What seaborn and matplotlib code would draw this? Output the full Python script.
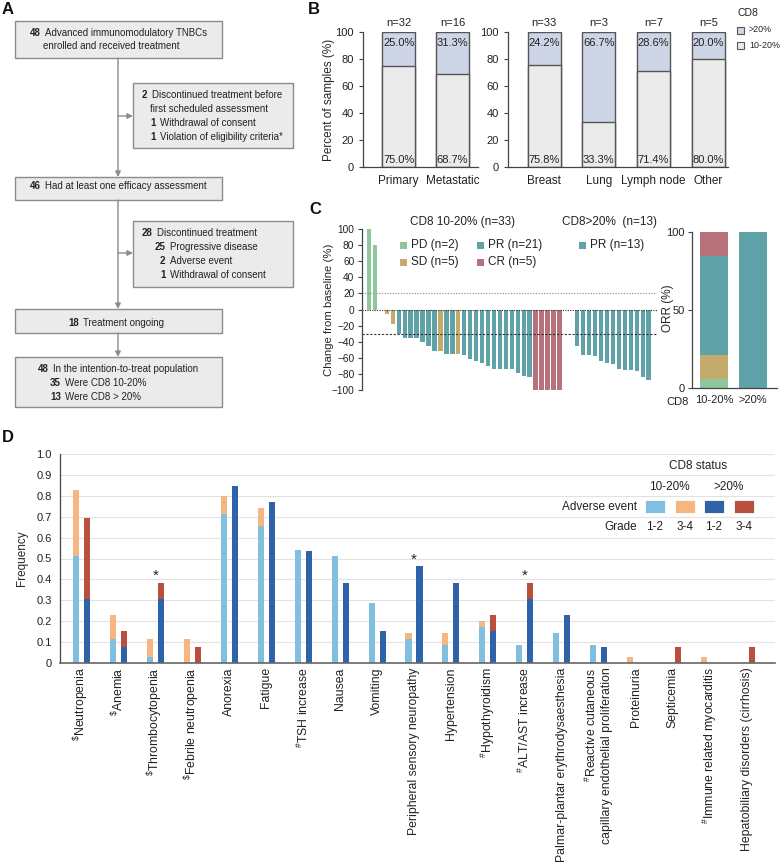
import numpy as np
import pandas as pd
import seaborn as sns
import matplotlib.pyplot as plt
from matplotlib.patches import Rectangle

sns.set_style("white")
plt.rcParams["font.family"] = ["Liberation Sans", "DejaVu Sans"]
plt.rcParams["mathtext.fontset"] = "custom"
plt.rcParams["mathtext.rm"] = "Liberation Sans"
plt.rcParams["mathtext.it"] = "Liberation Sans:italic"
plt.rcParams["mathtext.bf"] = "Liberation Sans:bold"
plt.rcParams["axes.edgecolor"] = "#444444"
plt.rcParams["axes.linewidth"] = 0.9
plt.rcParams["text.color"] = "#222222"
plt.rcParams["xtick.color"] = "#444444"
plt.rcParams["ytick.color"] = "#444444"
plt.rcParams["xtick.labelcolor"] = "#222222"
plt.rcParams["ytick.labelcolor"] = "#222222"

# ---------------- data ----------------
# panel A flow chart
flow_lines = [
    [("48", "Advanced immunomodulatory TNBCs"), ("", "enrolled and received treatment")],
    [("2", "Discontinued treatment before"), ("", "first scheduled assessment"),
     ("1", "Withdrawal of consent"), ("1", "Violation of eligibility criteria*")],
    [("46", "Had at least one efficacy assessment")],
    [("28", "Discontinued treatment"), ("25", "Progressive disease"),
     ("2", "Adverse event"), ("1", "Withdrawal of consent")],
    [("18", "Treatment ongoing")],
    [("48", "In the intention-to-treat population"), ("35", "Were CD8 10-20%"),
     ("13", "Were CD8 > 20%")],
]

# panel B
site_groups = ["Primary", "Metastatic"]
site_n = [32, 16]
site_high = [25.0, 31.3]
site_low = [75.0, 68.7]
organ_groups = ["Breast", "Lung", "Lymph node", "Other"]
organ_n = [33, 3, 7, 5]
organ_high = [24.2, 66.7, 28.6, 20.0]
organ_low = [75.8, 33.3, 71.4, 80.0]

# panel C waterfall
low_resp = ["PD"] * 2 + ["SD"] * 3 + ["PR"] * 7 + ["SD"] + ["PR"] * 2 + ["SD"] + ["PR"] * 12 + ["CR"] * 5
low_change = [100, 80, 0, -5, -18, -30, -35, -36, -36, -40, -45, -51, -52, -55, -55, -55,
              -57, -62, -64, -67, -70, -74, -74, -74, -74, -79, -83, -84,
              -100, -100, -100, -100, -100]
high_resp = ["PR"] * 13
high_change = [-45, -56, -57, -58, -64, -67, -68, -74, -75, -75, -77, -84, -88]
resp_order = ["PD", "SD", "PR", "CR"]
low_counts = [2, 5, 21, 5]
high_counts = [0, 0, 13, 0]

# panel D adverse events
events = ["Neutropenia", "Anemia", "Thrombocytopenia", "Febrile neutropenia", "Anorexia",
          "Fatigue", "TSH increase", "Nausea", "Vomiting", "Peripheral sensory neuropathy",
          "Hypertension", "Hypothyroidism", "ALT/AST increase",
          "Palmar-plantar erythrodysaesthesia",
          "Reactive cutaneous\ncapillary endothelial proliferation",
          "Proteinuria", "Septicemia", "Immune related myocarditis",
          "Hepatobiliary disorders (cirrhosis)"]
event_mark = ["$", "$", "$", "$", "", "", "#", "", "", "", "", "#", "#", "", "#", "", "", "#", ""]
low_g12 = [0.514, 0.114, 0.029, 0, 0.714, 0.657, 0.543, 0.514, 0.286, 0.114, 0.086, 0.171,
           0.086, 0.143, 0.086, 0, 0, 0, 0]
low_g34 = [0.314, 0.114, 0.086, 0.114, 0.086, 0.086, 0, 0, 0, 0.029, 0.057, 0.029,
           0, 0, 0, 0.029, 0, 0.029, 0]
high_g12 = [0.308, 0.077, 0.308, 0, 0.846, 0.769, 0.538, 0.385, 0.154, 0.462, 0.385, 0.154,
            0.308, 0.231, 0.077, 0, 0, 0, 0]
high_g34 = [0.385, 0.077, 0.077, 0.077, 0, 0, 0, 0, 0, 0, 0, 0.077,
            0.077, 0, 0, 0, 0.077, 0, 0.077]
star_events = ["Thrombocytopenia", "Peripheral sensory neuropathy", "ALT/AST increase"]

# colours
c_low_b, c_high_b, edge_b = "#ebebeb", "#cdd5e7", "#555555"
resp_colors = {"PD": "#8dc79b", "SD": "#c5ab6b", "PR": "#5fa2a8", "CR": "#b7717b"}
c_lb, c_or, c_db, c_rd = "#80bfdd", "#f5b682", "#2f63a9", "#b9503d"

W, H = 780, 865
fig = plt.figure(figsize=(W / 100, H / 100), dpi=100)


def px_axes(x0, y0, x1, y1):
    return fig.add_axes([x0 / W, 1 - y1 / H, (x1 - x0) / W, (y1 - y0) / H])


ov = fig.add_axes([0, 0, 1, 1])
ov.set_xlim(0, W)
ov.set_ylim(H, 0)
ov.axis("off")
ov.set_zorder(10)

# ---------------- panel A ----------------
box_px = [(15, 21, 222, 58), (133, 83, 293, 148), (15, 177, 222, 200),
          (133, 221, 293, 287), (15, 309, 222, 333), (15, 357, 222, 407)]
text_pos = [[(30, 35.5), (43, 49)],
            [(142, 97.5), (150, 111.5), (150, 125.5), (150, 139.5)],
            [(30, 189)],
            [(142, 236.5), (155, 250.5), (160, 264.5), (160, 278.5)],
            [(68, 325.5)],
            [(38, 371.5), (50, 385.5), (50, 399.5)]]
fs_a = 7.05
for (x0, y0, x1, y1), lines, pos in zip(box_px, flow_lines, text_pos):
    ov.add_patch(Rectangle((x0, y0), x1 - x0, y1 - y0, facecolor="#ebebeb",
                           edgecolor="#8c8c8c", lw=1.0))
    for (num, rest), (tx, ty) in zip(lines, pos):
        if num:
            t = ov.text(tx, ty, num, fontsize=fs_a, fontweight="bold", va="baseline")
            ov.annotate(rest, xy=(1, 0), xycoords=t, xytext=(3.0, 0),
                        textcoords="offset points", fontsize=fs_a, va="bottom", ha="left")
        else:
            ov.text(tx, ty, rest, fontsize=fs_a, va="baseline")

arr = dict(arrowstyle="-|>", color="#8c8c8c", lw=1.0, mutation_scale=8, shrinkA=0, shrinkB=0)
ov.annotate("", xy=(118, 177), xytext=(118, 58), arrowprops=arr)
ov.annotate("", xy=(133, 116), xytext=(118, 116), arrowprops=arr)
ov.annotate("", xy=(118, 309), xytext=(118, 200), arrowprops=arr)
ov.annotate("", xy=(133, 253), xytext=(118, 253), arrowprops=arr)
ov.annotate("", xy=(118, 357), xytext=(118, 333), arrowprops=arr)

# panel letters
for letter, x, y in [("A", 2, 9), ("B", 308, 9), ("C", 309, 210), ("D", 2, 438)]:
    ov.text(x, y, letter, fontsize=12, fontweight="bold", va="center", ha="left", color="#111111")

# ---------------- panel B ----------------
def stacked_percent(ax, groups, high, low, n, width):
    df = pd.DataFrame({"group": groups, "high": high, "low": low})
    df["total"] = df["high"] + df["low"]
    sns.barplot(data=df, x="group", y="total", color=c_high_b, edgecolor=edge_b,
                linewidth=1, width=width, saturation=1, ax=ax)
    sns.barplot(data=df, x="group", y="low", color=c_low_b, edgecolor=edge_b,
                linewidth=1, width=width, saturation=1, ax=ax)
    for i in range(len(groups)):
        ax.text(i, 107, f"n={n[i]}", ha="center", va="center", fontsize=8, clip_on=False)
        ax.text(i, 92, f"{high[i]:.1f}%", ha="center", va="center", fontsize=8)
        ax.text(i, 5.5, f"{low[i]:.1f}%", ha="center", va="center", fontsize=8)
    ax.set_ylim(0, 100)
    ax.set_yticks(range(0, 101, 20))
    ax.set_xlabel("")
    ax.set_ylabel("")
    sns.despine(ax=ax)
    ax.tick_params(axis="y", labelsize=8, length=3, width=0.8, left=True)
    ax.tick_params(axis="x", labelsize=8.5, length=0, pad=6)


ax_b1 = px_axes(363, 32, 478, 167)
stacked_percent(ax_b1, site_groups, site_high, site_low, site_n, 0.61)
ax_b1.set_xlim(-0.66, 1.47)
ax_b1.set_ylabel("Percent of samples (%)", fontsize=8.5)
ax_b1.yaxis.set_label_coords((335 - 363) / 115, 0.5)

ax_b2 = px_axes(508, 32, 728, 167)
stacked_percent(ax_b2, organ_groups, organ_high, organ_low, organ_n, 0.6)
ax_b2.set_xlim(-0.66, 3.36)

ov.text(737, 13, "CD8", fontsize=7.5, va="center")
ov.add_patch(Rectangle((737, 26.5), 7, 7, facecolor=c_high_b, edgecolor=edge_b, lw=0.8))
ov.add_patch(Rectangle((737, 41.5), 7, 7, facecolor=c_low_b, edgecolor=edge_b, lw=0.8))
ov.text(749, 30, ">20%", fontsize=6.4, va="center")
ov.text(749, 45, "10-20%", fontsize=6.4, va="center")

# ---------------- panel C waterfall ----------------
ax_c = px_axes(362, 229, 657, 390)
wf = pd.DataFrame({
    "pos": list(range(len(low_change))) + list(range(35, 35 + len(high_change))),
    "change": low_change + high_change,
    "resp": low_resp + high_resp,
})
sns.barplot(data=wf, x="pos", y="change", hue="resp", palette=resp_colors,
            order=list(range(35 + len(high_change))), dodge=False, width=0.74,
            saturation=1, linewidth=0, legend=False, errorbar=None, ax=ax_c)
ax_c.axhline(20, ls=(0, (1, 1.2)), color="#9a9a9a", lw=0.9)
ax_c.axhline(0, ls=(0, (1, 1.2)), color="#333333", lw=0.8)
ax_c.axhline(-30, ls=(0, (2, 1.5)), color="#333333", lw=0.8)
ax_c.set_xlim(-1.18, 48.4)
ax_c.set_ylim(-100, 100)
ax_c.set_yticks(range(-100, 101, 20))
ax_c.set_xticks([])
ax_c.set_xlabel("")
ax_c.set_ylabel("Change from baseline (%)", fontsize=8.2)
ax_c.yaxis.set_label_coords((334 - 362) / 295, 0.5)
for s in ["top", "right", "bottom"]:
    ax_c.spines[s].set_visible(False)
ax_c.tick_params(axis="y", labelsize=7.3, length=3, width=0.8, left=True, pad=2.5)

ov.text(462.5, 222, "CD8 10-20% (n=33)", fontsize=8.5, ha="center", va="center")
ov.text(610, 222, "CD8>20%  (n=13)", fontsize=8.5, ha="center", va="center")
leg_c = [("PD", "PD (n=2)", 400, 245), ("SD", "SD (n=5)", 400, 262),
         ("PR", "PR (n=21)", 477, 245), ("CR", "CR (n=5)", 477, 262),
         ("PR", "PR (n=13)", 579, 245)]
for r, lab, x, y in leg_c:
    ov.add_patch(Rectangle((x, y - 3.5), 7, 7, facecolor=resp_colors[r], edgecolor="none"))
    ov.text(x + 11, y, lab, fontsize=8.5, va="center")

# ORR stacked
ax_o = px_axes(692, 232, 777, 388)
orr = pd.DataFrame({
    "group": ["10-20%"] * 4 + [">20%"] * 4,
    "resp": resp_order * 2,
    "count": low_counts + high_counts,
})
orr["pct"] = orr["count"] / orr.groupby("group")["count"].transform("sum") * 100
orr["cum"] = orr.groupby("group")["pct"].cumsum()
for r in resp_order[::-1]:
    sns.barplot(data=orr[orr["resp"] == r], x="group", y="cum", order=["10-20%", ">20%"],
                color=resp_colors[r], width=0.72, saturation=1, linewidth=0, ax=ax_o)
ax_o.set_xlim(-0.56, 1.62)
ax_o.set_ylim(0, 100)
ax_o.set_yticks([0, 50, 100])
ax_o.set_xlabel("")
ax_o.set_ylabel("ORR (%)", fontsize=8.5)
ax_o.yaxis.set_label_coords((674 - 692) / 85, 0.51)
sns.despine(ax=ax_o)
ax_o.tick_params(axis="y", labelsize=8, length=3, width=0.8, left=True, pad=2)
ax_o.tick_params(axis="x", labelsize=8, length=0, pad=5)
ov.text(678, 402, "CD8", fontsize=8, ha="center", va="center")

# ---------------- panel D ----------------
ax_d = px_axes(60, 454, 775, 663)
ae = pd.DataFrame({
    "event": events * 2,
    "cd8": ["10-20%"] * len(events) + [">20%"] * len(events),
    "g12": low_g12 + high_g12,
    "g34": low_g34 + high_g34,
})
ae["total"] = ae["g12"] + ae["g34"]
sns.barplot(data=ae, x="event", y="total", hue="cd8", palette={"10-20%": c_or, ">20%": c_rd},
            width=0.596, gap=0.45, saturation=1, linewidth=0, legend=False, errorbar=None, ax=ax_d)
sns.barplot(data=ae, x="event", y="g12", hue="cd8", palette={"10-20%": c_lb, ">20%": c_db},
            width=0.596, gap=0.45, saturation=1, linewidth=0, legend=False, errorbar=None, ax=ax_d)
for ev in star_events:
    i = events.index(ev)
    top = ae.loc[ae["event"] == ev, "total"].max()
    ax_d.text(i, top + 0.015, "*", ha="center", va="baseline", fontsize=11)

ax_d.set_xlim(-0.58, 18.77)
ax_d.set_ylim(0, 1)
ax_d.set_yticks(np.arange(0, 1.01, 0.1))
ax_d.set_yticklabels(["0"] + [f"{v:.1f}" for v in np.arange(0.1, 1.01, 0.1)])
ax_d.yaxis.grid(True, color="#e2e2e2", lw=0.8)
ax_d.set_axisbelow(True)
labels = [(r"$^{\%s}$" % m if m else "") + e for m, e in zip(event_mark, events)]
ax_d.set_xticks(range(len(events)))
ax_d.set_xticklabels(labels, rotation=90, fontsize=8.8)
for lbl in ax_d.get_xticklabels():
    lbl.set_multialignment("right")
ax_d.set_xlabel("")
ax_d.set_ylabel("Frequency", fontsize=8.5, labelpad=6)
sns.despine(ax=ax_d)
ax_d.spines["bottom"].set_color("#666666")
ax_d.spines["bottom"].set_linewidth(1.2)
ax_d.tick_params(axis="y", labelsize=8, length=0, pad=6)
ax_d.tick_params(axis="x", length=0, pad=3)

ov.text(698, 466, "CD8 status", fontsize=8.5, ha="center", va="center")
ov.text(669, 487, "10-20%", fontsize=8.5, ha="center", va="center")
ov.text(729, 487, ">20%", fontsize=8.5, ha="center", va="center")
ov.text(637, 507, "Adverse event", fontsize=8.5, ha="right", va="center")
ov.text(637, 527, "Grade", fontsize=8.5, ha="right", va="center")
for x0, c, g in [(645, c_lb, "1-2"), (675, c_or, "3-4"), (704, c_db, "1-2"), (734, c_rd, "3-4")]:
    ov.add_patch(Rectangle((x0, 500), 20, 13, facecolor=c, edgecolor="white", lw=0.6))
    ov.text(x0 + 10, 527, g, fontsize=8.5, ha="center", va="center")

fig.savefig("out.png", dpi=100)
